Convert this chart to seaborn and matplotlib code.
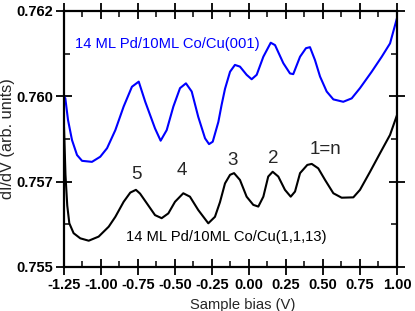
import numpy as np
import matplotlib
matplotlib.use("Agg")
import matplotlib.pyplot as plt
import pandas as pd
import seaborn as sns

# dI/dV spectra
bias_001 = [-1.25, -1.241, -1.223, -1.196, -1.162, -1.128, -1.061, -1.005, -0.959, -0.903,
            -0.847, -0.791, -0.745, -0.701, -0.635, -0.597, -0.556, -0.511, -0.466, -0.426,
            -0.387, -0.343, -0.297, -0.270, -0.245, -0.207, -0.185, -0.162, -0.128, -0.095,
            -0.061, -0.016, 0.018, 0.052, 0.097, 0.147, 0.176, 0.232, 0.277, 0.299,
            0.345, 0.385, 0.412, 0.446, 0.480, 0.525, 0.570, 0.637, 0.694, 0.750,
            0.829, 0.897, 0.953, 1.000]
didv_001 = [0.75950, 0.75944, 0.75881, 0.75822, 0.75778, 0.75761, 0.75758, 0.75773, 0.75798, 0.75851,
            0.75920, 0.75978, 0.75993, 0.75934, 0.75856, 0.75820, 0.75851, 0.75920, 0.75974, 0.75988,
            0.75964, 0.75890, 0.75827, 0.75810, 0.75817, 0.75875, 0.75925, 0.75972, 0.76022, 0.76042,
            0.76037, 0.76013, 0.76000, 0.76013, 0.76066, 0.76107, 0.76100, 0.76047, 0.76017, 0.76015,
            0.76066, 0.76091, 0.76094, 0.76056, 0.76008, 0.75964, 0.75941, 0.75934, 0.75944, 0.75974,
            0.76022, 0.76066, 0.76105, 0.76179]

bias_1113 = [-1.25, -1.240, -1.228, -1.214, -1.185, -1.140, -1.083, -1.016, -0.948, -0.903,
             -0.847, -0.802, -0.764, -0.736, -0.691, -0.635, -0.590, -0.545, -0.500, -0.444,
             -0.399, -0.343, -0.275, -0.230, -0.196, -0.162, -0.128, -0.101, -0.061, -0.016,
             0.029, 0.063, 0.097, 0.130, 0.160, 0.198, 0.243, 0.282, 0.311, 0.345,
             0.394, 0.424, 0.468, 0.514, 0.570, 0.626, 0.705, 0.750, 0.818, 0.885,
             0.953, 1.000]
didv_1113 = [0.75860, 0.75720, 0.75630, 0.75578, 0.75549, 0.75534, 0.75527, 0.75539, 0.75568, 0.75597,
             0.75641, 0.75668, 0.75676, 0.75665, 0.75637, 0.75602, 0.75593, 0.75607, 0.75641, 0.75666,
             0.75656, 0.75617, 0.75578, 0.75597, 0.75640, 0.75695, 0.75720, 0.75725, 0.75705, 0.75656,
             0.75632, 0.75627, 0.75656, 0.75715, 0.75729, 0.75715, 0.75676, 0.75656, 0.75671, 0.75725,
             0.75749, 0.75752, 0.75739, 0.75705, 0.75666, 0.75653, 0.75654, 0.75676, 0.75729, 0.75783,
             0.75837, 0.75895]

labels = ["14 ML Pd/10ML Co/Cu(001)", "14 ML Pd/10ML Co/Cu(1,1,13)"]
peak_labels = ["5", "4", "3", "2", "1=n"]
peak_bias = [-0.759, -0.455, -0.110, 0.164, 0.514]
peak_didv = [0.75720, 0.75734, 0.75761, 0.75768, 0.75793]

xticks = [-1.25, -1.00, -0.75, -0.50, -0.25, 0.00, 0.25, 0.50, 0.75, 1.00]
yticks = [0.7545, 0.7570, 0.7595, 0.7620]
ytick_labels = ["0.755", "0.757", "0.760", "0.762"]

df = pd.concat([
    pd.DataFrame({"bias": bias_001, "didv": didv_001, "sample": labels[0]}),
    pd.DataFrame({"bias": bias_1113, "didv": didv_1113, "sample": labels[1]}),
])

sns.set_theme(style="ticks")
plt.rcParams["font.family"] = ["Liberation Sans", "DejaVu Sans"]

fig = plt.figure(figsize=(4.15, 3.11), dpi=100)
ax = fig.add_axes([0.1542, 0.1415, 0.8024, 0.8232])

sns.lineplot(data=df, x="bias", y="didv", hue="sample", sort=False,
             palette={labels[0]: "#0000ff", labels[1]: "black"},
             linewidth=1.5, legend=False, ax=ax)

ax.set_xlim(-1.25, 1.0)
ax.set_ylim(0.7545, 0.7620)
ax.set_xticks(xticks)
ax.set_xticklabels([f"{t:.2f}" for t in xticks], fontweight="bold", fontsize=10.5)
ax.set_xticks(np.arange(-1.125, 1.0, 0.25), minor=True)
ax.set_yticks(yticks)
ax.set_yticklabels(ytick_labels, fontweight="bold", fontsize=10.5)
ax.set_yticks([0.75575, 0.75825, 0.76075], minor=True)

ax.tick_params(which="major", direction="inout", length=11, width=1.3,
               top=True, right=True, pad=2.5, colors="black")
ax.tick_params(which="minor", direction="in", length=4, width=1.3,
               top=True, right=True)
for s in ax.spines.values():
    s.set_linewidth(1.6)
    s.set_color("black")

ax.set_xlabel("Sample bias (V)", fontsize=10.6)
ax.set_ylabel("dI/dV (arb. units)", fontsize=11.8)
ax.xaxis.set_label_coords(0.5375, -0.12)
ax.yaxis.set_label_coords(-0.147, 0.5)

ax.text(-1.176, 0.76103, labels[0], color="#0000ff", fontsize=10.6, va="center", ha="left")
ax.text(-0.152, 0.75538, labels[1], color="black", fontsize=10.6, va="center", ha="center")
for lab, x, y in zip(peak_labels, peak_bias, peak_didv):
    ax.text(x, y, lab, fontsize=13.5, ha="center", va="center")

fig.savefig("out.png", dpi=100)
